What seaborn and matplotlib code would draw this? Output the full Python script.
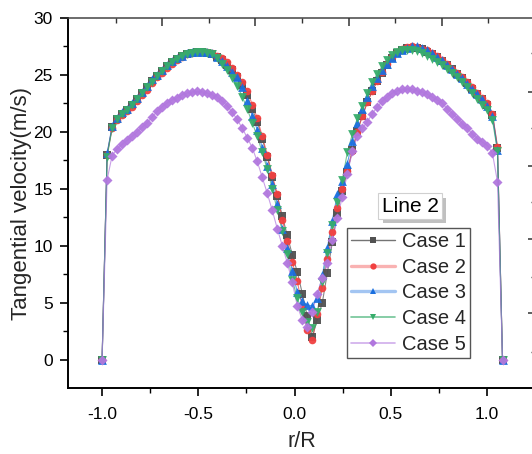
import numpy as np
import pandas as pd
import matplotlib
matplotlib.use("Agg")
import matplotlib.pyplot as plt
import matplotlib.patheffects as pe
from matplotlib.lines import Line2D
import seaborn as sns

# ---------------- data ----------------
r_over_R = [-1.0, -0.974, -0.948, -0.922, -0.896, -0.87, -0.844, -0.818, -0.792, -0.766,
            -0.74, -0.714, -0.688, -0.662, -0.636, -0.61, -0.584, -0.558, -0.532, -0.506,
            -0.48, -0.454, -0.428, -0.402, -0.376, -0.35, -0.324, -0.298, -0.272, -0.246,
            -0.22, -0.194, -0.168, -0.142, -0.116, -0.09, -0.064, -0.038, -0.012, 0.014,
            0.04, 0.066, 0.092, 0.118, 0.144, 0.17, 0.196, 0.222, 0.248, 0.274,
            0.3, 0.326, 0.352, 0.378, 0.404, 0.43, 0.456, 0.482, 0.508, 0.534,
            0.56, 0.586, 0.612, 0.638, 0.664, 0.69, 0.716, 0.742, 0.768, 0.794,
            0.82, 0.846, 0.872, 0.898, 0.924, 0.95, 0.976, 1.002, 1.028, 1.054, 1.08]

case1 = [0, 18.0, 20.4, 21.1, 21.6, 21.9, 22.4, 22.9, 23.4, 23.9,
         24.5, 24.9, 25.35, 25.75, 26.1, 26.4, 26.65, 26.85, 26.95, 27.0,
         27.0, 26.95, 26.85, 26.6, 26.3, 25.9, 25.4, 24.8, 24.1, 23.2,
         22.0, 20.9, 19.4, 17.8, 16.0, 14.4, 12.6, 10.9, 9.2, 7.7,
         5.8, 3.8, 2.0, 3.5, 5.0, 7.6, 10.3, 12.9, 14.8, 16.5,
         18.4, 20.1, 21.4, 22.6, 23.6, 24.5, 25.2, 25.9, 26.5, 26.9,
         27.2, 27.35, 27.4, 27.4, 27.25, 27.05, 26.85, 26.6, 26.25, 25.9,
         25.5, 25.1, 24.7, 24.25, 23.8, 23.35, 22.9, 22.4, 21.5, 18.6, 0]

case2 = [0, 18.0, 20.3, 21.0, 21.5, 21.8, 22.2, 22.7, 23.2, 23.7,
         24.3, 24.8, 25.2, 25.6, 26.0, 26.3, 26.6, 26.8, 26.9, 27.0,
         27.0, 27.0, 26.9, 26.7, 26.45, 26.1, 25.6, 25.0, 24.4, 23.6,
         22.4, 21.2, 19.6, 18.0, 16.2, 14.5, 12.3, 10.4, 8.6, 6.9,
         4.6, 2.6, 1.7, 4.0, 6.3, 8.8, 11.2, 13.3, 15.0, 16.6,
         18.3, 20.0, 21.4, 22.6, 23.6, 24.5, 25.3, 26.0, 26.6, 27.0,
         27.3, 27.45, 27.5, 27.45, 27.3, 27.15, 26.9, 26.65, 26.3, 25.95,
         25.55, 25.2, 24.8, 24.35, 23.9, 23.45, 23.0, 22.5, 21.6, 18.7, 0]

case3 = [0, 18.1, 20.5, 21.2, 21.7, 22.0, 22.5, 23.0, 23.5, 24.0,
         24.6, 25.0, 25.45, 25.85, 26.2, 26.5, 26.7, 26.9, 27.0, 27.05,
         27.05, 27.0, 26.9, 26.6, 26.2, 25.75, 25.3, 24.8, 23.9, 22.7,
         21.4, 20.2, 18.6, 17.0, 15.4, 13.7, 11.5, 9.8, 7.8, 5.9,
         5.1, 4.8, 4.7, 5.4, 7.4, 9.8, 12.2, 14.5, 15.7, 17.2,
         19.2, 20.8, 22.0, 23.1, 24.0, 24.7, 25.4, 26.0, 26.5, 26.9,
         27.2, 27.4, 27.5, 27.5, 27.35, 27.15, 26.9, 26.6, 26.3, 25.9,
         25.5, 25.1, 24.7, 24.2, 23.8, 23.3, 22.9, 22.3, 21.4, 18.4, 0]

case4 = [0, 17.8, 20.3, 21.1, 21.6, 21.9, 22.4, 22.9, 23.4, 23.9,
         24.4, 24.9, 25.35, 25.75, 26.1, 26.4, 26.65, 26.85, 26.95, 27.0,
         27.0, 26.95, 26.8, 26.5, 26.0, 25.4, 24.7, 24.0, 23.1, 22.0,
         20.8, 19.6, 18.2, 16.7, 15.0, 13.1, 11.3, 9.3, 7.0, 5.4,
         4.2, 3.3, 2.8, 4.2, 6.8, 9.4, 11.8, 13.8, 15.8, 18.2,
         19.8, 21.2, 22.3, 23.4, 24.4, 25.1, 25.8, 26.35, 26.75, 27.05,
         27.15, 27.2, 27.2, 27.1, 26.9, 26.65, 26.4, 26.1, 25.85, 25.5,
         25.15, 24.8, 24.4, 23.9, 23.4, 22.9, 22.4, 21.9, 21.0, 18.3, 0]

case5 = [0, 15.8, 17.9, 18.5, 18.9, 19.25, 19.6, 20.0, 20.4, 20.8,
         21.3, 21.8, 22.2, 22.55, 22.8, 23.0, 23.25, 23.4, 23.5, 23.55,
         23.5, 23.4, 23.25, 23.05, 22.7, 22.3, 21.7, 21.1, 20.3, 19.5,
         18.6, 17.4, 16.0, 14.6, 13.1, 11.5, 10.0, 8.5, 6.8, 4.7,
         3.5, 2.9, 4.2, 5.8, 7.2, 8.5, 10.5, 12.4, 14.3, 16.3,
         18.3, 19.6, 20.3, 20.9, 21.6, 22.2, 22.7, 23.1, 23.4, 23.6,
         23.75, 23.8, 23.75, 23.6, 23.5, 23.3, 23.05, 22.8, 22.5, 22.0,
         21.6, 21.15, 20.7, 20.3, 19.8, 19.4, 19.1, 18.8, 18.1, 15.6, 0]

case_names = ["Case 1", "Case 2", "Case 3", "Case 4", "Case 5"]
x_ticks = [-1.0, -0.5, 0.0, 0.5, 1.0]
y_ticks = [0, 5, 10, 15, 20, 25, 30]
legend_title = "Line 2"

# ---------------- styling ----------------
colors = ["#515151", "#F14040", "#1A6FDF", "#37AD6B", "#B177DE"]
markers = ["s", "o", "^", "v", "D"]
msizes = [26, 30, 40, 40, 26]

sns.set_theme(style="ticks")
plt.rcParams["font.family"] = ["Liberation Sans", "DejaVu Sans"]

W, H = 532, 454
fig = plt.figure(figsize=(W / 100, H / 100), dpi=100)
ax_l, ax_r, ax_b, ax_t = 68, 536, 388, 18
pos = [ax_l / W, 1 - ax_b / H, (ax_r - ax_l) / W, (ax_b - ax_t) / H]
ax = fig.add_axes(pos)

series = [case1, case2, case3, case4, case5]
frames = []
for name, vals in zip(case_names, series):
    frames.append(pd.DataFrame({"r": r_over_R, "v": vals, "case": name}))
df = pd.concat(frames, ignore_index=True)

palette = dict(zip(case_names, colors))
sns.lineplot(data=df, x="r", y="v", hue="case", palette=palette, sort=False,
             estimator=None, linewidth=0.8, alpha=0.7, legend=False, ax=ax)
for name, m, s in zip(case_names, markers, msizes):
    sub = df[df["case"] == name]
    sns.scatterplot(data=sub, x="r", y="v", color=palette[name], marker=m, s=s,
                    linewidth=0, alpha=0.95, legend=False, ax=ax, zorder=3)

ax.set_xlim((ax_l - 294.6) / 192.5, (ax_r - 294.6) / 192.5)
ax.set_ylim(-2.5, 30)
ax.set_xticks(x_ticks)
ax.set_xticklabels([f"{t:.1f}" for t in x_ticks])
ax.set_yticks(y_ticks)
ax.set_xticks([-0.75, -0.25, 0.25, 0.75], minor=True)
ax.set_yticks([2.5, 7.5, 12.5, 17.5, 22.5, 27.5], minor=True)
ax.tick_params(axis="both", which="major", direction="out", length=6, width=1.2,
               labelsize=12.5, color="black", labelcolor="black")
ax.tick_params(axis="x", which="major", pad=8)
ax.tick_params(axis="y", which="major", pad=5)
ax.tick_params(axis="both", which="minor", direction="out", length=3.5, width=1.0,
               color="black")
ax.tick_params(top=False, right=False, which="both")
for side in ["left", "bottom"]:
    ax.spines[side].set_linewidth(1.4)
    ax.spines[side].set_color("black")
ax.spines["right"].set_visible(False)
ax.spines["top"].set_linewidth(1.1)
ax.spines["top"].set_color("#444444")

ax.set_xlabel("r/R", fontsize=15.5, labelpad=6)
ax.set_ylabel("Tangential velocity(m/s)", fontsize=16, labelpad=1)

# second layer ticks (top and right, inward)
ax2 = fig.add_axes(pos, frameon=False)
ax2.set_xlim(ax.get_xlim())
ax2.set_ylim(ax.get_ylim())
ax2.xaxis.tick_top()
ax2.yaxis.tick_right()
ax2.set_xticks([-0.689, -0.206, 0.283, 0.766])
ax2.set_xticks([-0.928, -0.445, 0.038, 0.522, 1.005], minor=True)
ax2.set_yticks([23.51, 17.02, 10.61, 4.12])
ax2.set_yticks([26.93, 20.35, 13.86, 7.28, 0.70], minor=True)
ax2.tick_params(which="major", direction="in", length=6, width=1.1, color="#333333",
                labeltop=False, labelright=False, labelbottom=False, labelleft=False)
ax2.tick_params(which="minor", direction="in", length=3.5, width=1.0, color="#333333")
ax2.patch.set_visible(False)

# legend
handle_lw = [1.0, 2.4, 2.4, 1.2, 1.2]
handle_alpha = [0.8, 0.4, 0.4, 0.7, 0.6]
handles = []
for c, m, lw, a in zip(colors, markers, handle_lw, handle_alpha):
    ln = Line2D([], [], color=c, lw=lw, alpha=a)
    mk = Line2D([], [], color=c, marker=m, ms=4.5, lw=0, mew=0)
    handles.append((ln, mk))
leg = ax.legend(handles, case_names, loc="upper left",
                bbox_to_anchor=((347 - ax_l) / (ax_r - ax_l), (ax_b - 228) / (ax_b - ax_t)),
                fontsize=14.5, frameon=True, fancybox=False, framealpha=1,
                edgecolor="#555555", handlelength=2.2, handletextpad=0.35,
                borderpad=0.2, labelspacing=0.33, borderaxespad=0)
leg.get_frame().set_linewidth(1.0)

tx, ty = (410 - ax_l) / (ax_r - ax_l), (ax_b - 206) / (ax_b - ax_t)
title = ax.text(tx, ty, legend_title, transform=ax.transAxes, ha="center", va="center",
                fontsize=15, color="black", zorder=6,
                bbox=dict(boxstyle="square,pad=0.15", fc="white", ec="#d0d0d0", lw=0.8))
title.get_bbox_patch().set_path_effects([
    pe.SimplePatchShadow(offset=(3, -3), shadow_rgbFace="#c0c0c0", alpha=1.0),
    pe.Normal()])

fig.savefig("out.png", dpi=100)
